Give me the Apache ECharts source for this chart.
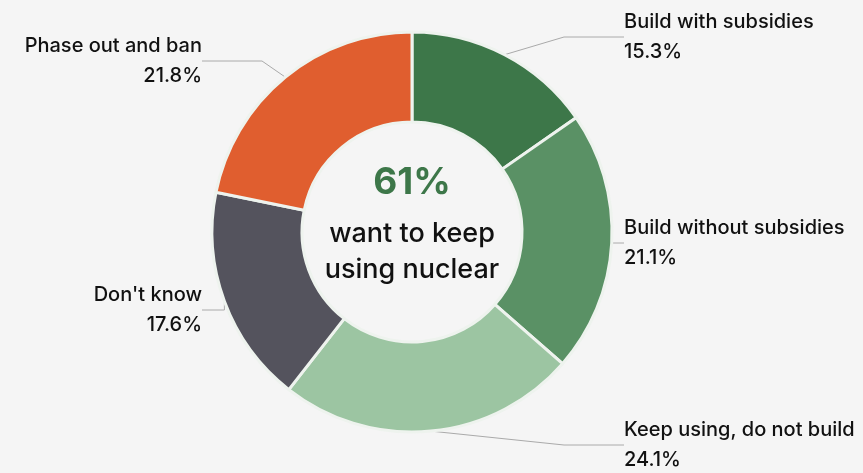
<!DOCTYPE html>
<html>
<head>
<meta charset="utf-8">
<script src="https://cdn.jsdelivr.net/npm/echarts@6/dist/echarts.min.js"></script>
<style>
  html, body { margin: 0; padding: 0; background: #f5f5f5; }
  #chart { width: 863px; height: 473px; }
</style>
</head>
<body>
<div id="chart"></div>
<script>
var categories = ['Build with subsidies', 'Build without subsidies', 'Keep using, do not build', "Don't know", 'Phase out and ban'];
var values = [15.3, 21.1, 24.1, 17.6, 21.8];
var colors = ['#3d7749', '#5a9165', '#9cc5a2', '#54535d', '#e05e2f'];
var centerPct = '61%';
var centerText = ['want to keep', 'using nuclear'];

// where each label sits: [x, y, align]
var labelSpots = [
    [624, 37, 'left'],
    [624, 243, 'left'],
    [624, 445, 'left'],
    [202, 310, 'right'],
    [202, 61, 'right']
];

var chart = echarts.init(document.getElementById('chart'));

var data = [];
for (var i = 0; i < categories.length; i++) {
    data.push({ name: categories[i], value: values[i], itemStyle: { color: colors[i] } });
}

var font = 'Inter, "Noto Sans", sans-serif';

chart.setOption({
    backgroundColor: '#f5f5f5',
    animation: false,
    graphic: [
        {
            type: 'text', x: 412, y: 183, z: 100,
            style: { text: centerPct, fill: '#3d7749', font: 'bold 37px ' + font, align: 'center', verticalAlign: 'middle' }
        },
        {
            type: 'text', x: 412, y: 252, z: 100,
            style: { text: centerText.join('\n'), fill: '#111', font: '500 27px ' + font, lineHeight: 36, align: 'center', verticalAlign: 'middle' }
        }
    ],
    series: [{
        type: 'pie',
        center: [412, 232],
        radius: [110, 200],
        startAngle: 90,
        clockwise: true,
        data: data,
        itemStyle: { borderColor: '#eef3ee', borderWidth: 3 },
        label: {
            show: true,
            formatter: '{b}\n{c}%',
            color: '#111',
            fontFamily: font,
            fontWeight: 500,
            fontSize: 20,
            lineHeight: 30,
            overflow: 'none'
        },
        labelLine: {
            show: true,
            length: 8,
            length2: 60,
            lineStyle: { color: '#aaa', width: 1 }
        },
        labelLayout: function (p) {
            var s = labelSpots[p.dataIndex];
            return { x: s[0], y: s[1], align: s[2], verticalAlign: 'middle' };
        }
    }]
});
</script>
</body>
</html>
